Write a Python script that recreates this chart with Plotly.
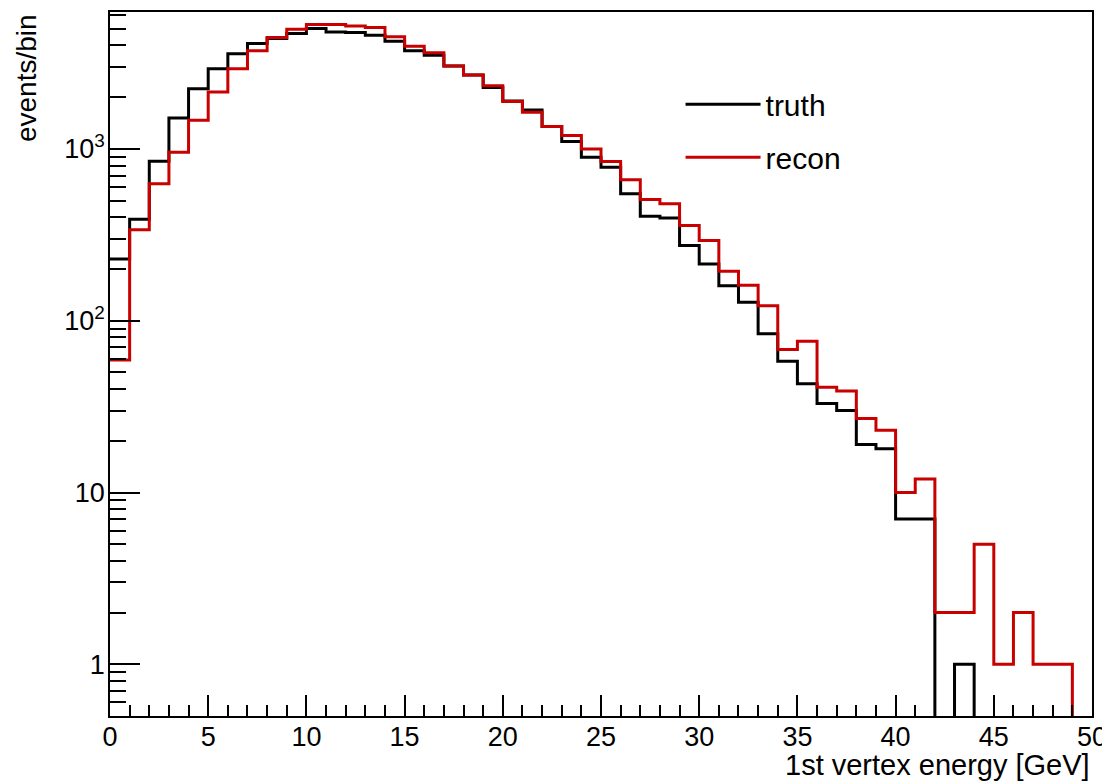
import plotly.graph_objects as go

bin_edges = list(range(0, 51))
truth = [229, 389, 848, 1513, 2240, 2930, 3580, 4105, 4390, 4695,
         5015, 4800, 4755, 4590, 4240, 3725, 3515, 3035, 2690, 2280,
         1900, 1686, 1349, 1105, 895, 783, 549, 405, 396, 274,
         214, 160, 128, 84, 58, 43, 33, 30, 19, 18,
         7, 7, 0, 1, 0, 0, 0, 0, 0, 0]
recon = [59, 338, 627, 957, 1468, 2145, 2930, 3725, 4450, 4980,
         5295, 5295, 5200, 5085, 4490, 3965, 3625, 3035, 2690, 2335,
         1885, 1633, 1349, 1197, 1000, 845, 662, 507, 480, 358,
         293, 194, 161, 122, 68, 76, 41, 39, 27, 23,
         10, 12, 2, 2, 5, 1, 2, 1, 1, 0]
y_tickvals = [1, 10, 100, 1000]
y_ticktext = ["1", "10", "10<sup>2</sup>", "10<sup>3</sup>"]

FONT = "Liberation Sans, Arial, sans-serif"
FLOOR = 1e-3  # empty bins drop below the axis on a log scale


def step_y(counts):
    vals = [c if c > 0 else FLOOR for c in counts]
    return vals + [vals[-1]]


fig = go.Figure()
fig.add_trace(go.Scatter(x=bin_edges, y=step_y(truth), mode="lines",
                         line=dict(shape="hv", color="#000000", width=3),
                         name="truth", legendgroup="a"))
fig.add_trace(go.Scatter(x=bin_edges, y=step_y(recon), mode="lines",
                         line=dict(shape="hv", color="#c80000", width=3),
                         name="recon", legendgroup="b"))

# the page body adds an 8px offset, so the figure is 8px smaller
fig.update_layout(
    width=1102, height=774,
    margin=dict(l=102, r=18, t=2, b=66),
    paper_bgcolor="white", plot_bgcolor="white",
    font=dict(family=FONT, color="black", size=27),
    showlegend=True,
    legend=dict(x=0.581, y=0.906, xanchor="left", yanchor="top",
                font=dict(size=30, family=FONT, color="black"),
                bgcolor="rgba(0,0,0,0)", tracegroupgap=11, itemwidth=75),
    xaxis=dict(range=[0, 50], showline=True, mirror=True, linecolor="black",
               linewidth=1.5, ticks="inside", ticklen=21, tickwidth=1.5,
               tickcolor="black", tick0=0, dtick=5, showgrid=False,
               zeroline=False, tickfont=dict(size=27), ticklabelstandoff=-4,
               minor=dict(ticks="inside", ticklen=11, tickwidth=1.5,
                          tickcolor="black", dtick=1, showgrid=False)),
    yaxis=dict(type="log", range=[-0.301, 3.797], showline=True, mirror=True,
               linecolor="black", linewidth=1.5, ticks="inside", ticklen=30,
               tickwidth=1.5, tickcolor="black", tickmode="array",
               tickvals=y_tickvals, ticktext=y_ticktext, showgrid=False,
               zeroline=False, tickfont=dict(size=27), ticklabelstandoff=-2,
               minor=dict(ticks="inside", ticklen=16, tickwidth=1.5,
                          tickcolor="black", dtick="D1", showgrid=False)),
    annotations=[
        dict(text="1st vertex energy [GeV]", xref="paper", yref="paper",
             x=1.0, y=-0.069, xanchor="right", yanchor="middle",
             showarrow=False, font=dict(size=29, family=FONT, color="black")),
        dict(text="events/bin", xref="paper", yref="paper",
             x=-0.0855, y=1.0, xanchor="center", yanchor="top",
             textangle=-90, showarrow=False,
             font=dict(size=28, family=FONT, color="black")),
    ],
)

fig.write_html("out.html")
